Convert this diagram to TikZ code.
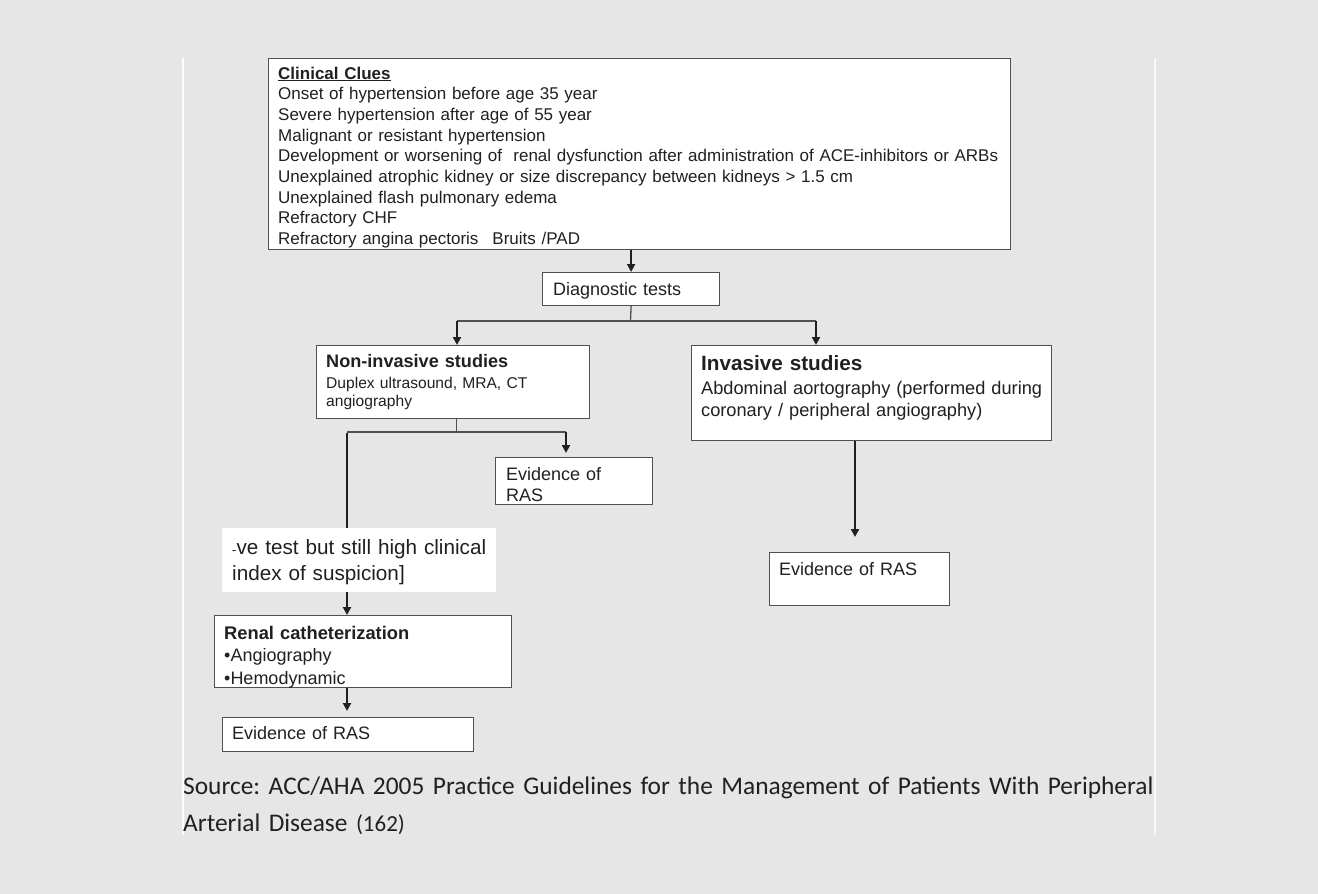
\documentclass[tikz,border=0pt]{standalone}
\usepackage{fontspec}
\setmainfont{Liberation Sans}
\newfontfamily\srcfont{Carlito}
\usetikzlibrary{arrows.meta}
\definecolor{bg}{RGB}{230,230,230}
\definecolor{ink}{RGB}{35,31,32}
\definecolor{rule}{RGB}{80,80,80}
\frenchspacing
\begin{document}
\begin{tikzpicture}[x=1pt,y=-1pt,
  box/.style={draw=rule, line width=1.2pt, fill=white, anchor=north west, inner sep=0pt},
  plain/.style={fill=white, anchor=north west, inner sep=0pt},
  txt/.style={anchor=base west, inner sep=0pt, text=ink, align=left, text width=1000pt,
    execute at begin node=\frenchspacing},
  link/.style={draw=rule, line width=1.3pt},
  arr/.style={draw=ink, line width=2pt, -{Triangle[length=8pt,width=8pt]}},
]
% page
\fill[bg] (0,0) rectangle (1318,894);
\useasboundingbox (0,0) rectangle (1318,894);
\draw[white, line width=2pt] (183,58) -- (183,835);
\draw[white!70!bg, line width=1.2pt] (1155,58) -- (1155,835);

% boxes
\node[box, minimum width=742pt, minimum height=191pt] (clues) at (268,58) {};
\node[box, minimum width=177pt, minimum height=33pt] (diag) at (542,272) {};
\node[box, minimum width=273pt, minimum height=73pt] (noninv) at (316,345) {};
\node[box, minimum width=157pt, minimum height=47pt] (evidA) at (495,457) {};
\node[box, minimum width=360pt, minimum height=95pt] (inv) at (691,345) {};
\node[box, minimum width=180pt, minimum height=53pt] (evidC) at (769,552) {};
\node[plain, minimum width=274pt, minimum height=64pt] (susp) at (222,528) {};
\node[box, minimum width=297pt, minimum height=72pt] (renal) at (214,615) {};
\node[box, minimum width=251pt, minimum height=34pt] (evidB) at (222,717) {};

% texts
\node[txt, font=\fontsize{17}{20.7}\selectfont] (cluestext) at (278,79)
  {\textbf{\underline{Clinical Clues}}\\
   Onset of hypertension before age 35 year\\
   Severe hypertension after age of 55 year\\
   Malignant or resistant hypertension\\
   Development or worsening of\ \ renal dysfunction after administration of ACE-inhibitors or ARBs\\
   Unexplained atrophic kidney or size discrepancy between kidneys > 1.5 cm\\
   Unexplained flash pulmonary edema\\
   Refractory CHF\\
   Refractory angina pectoris\hspace{14pt}Bruits /PAD};
\node[txt, font=\fontsize{18}{21}\selectfont] (diagtext) at (553,295.5) {Diagnostic tests};
\node[txt, font=\bfseries\fontsize{18.1}{21}\selectfont] (noninvhead) at (326,367.7) {Non-invasive studies};
\node[txt, font=\fontsize{15.6}{18.5}\selectfont] (noninvbody) at (326,388.3)
  {Duplex ultrasound, MRA, CT\\angiography};
\node[txt, font=\fontsize{18}{21}\selectfont] (evidAtext) at (506,480.5) {Evidence of\\RAS};
\node[txt, font=\fontsize{20.7}{26}\selectfont] (susptext) at (232,554)
  {{\fontsize{13}{13}\selectfont -}ve test but still high clinical\\index of suspicion]};
\node[txt, font=\bfseries\fontsize{18.3}{21}\selectfont] (renalhead) at (224,639) {Renal catheterization};
\node[txt, font=\fontsize{18}{22.3}\selectfont] (renalbody) at (224,661.7)
  {•Angiography\\•Hemodynamic};
\node[txt, font=\fontsize{18}{21}\selectfont] (evidBtext) at (232,739.3) {Evidence of RAS};
\node[txt, font=\bfseries\fontsize{20.7}{24}\selectfont] (invhead) at (701,370.7) {Invasive studies};
\node[txt, font=\fontsize{18.2}{21.7}\selectfont] (invbody) at (701,394.3)
  {Abdominal aortography (performed during\\coronary / peripheral angiography)};
\node[txt, font=\fontsize{18}{21}\selectfont] (evidCtext) at (779,575) {Evidence of RAS};

% source line
\node[txt, font=\srcfont\fontsize{25.4}{37}\selectfont] (source) at (183,794)
  {Source: ACC/AHA 2005 Practice Guidelines for the Management of Patients With Peripheral\\
   Arterial Disease {\fontsize{23}{37}\selectfont(162)}};

% connectors
\coordinate (fork) at (630.5,321);
\coordinate (forkL) at (457,321);
\coordinate (forkR) at (816,321);
\coordinate (forkB) at (456,432);
\coordinate (forkBL) at (347,432);
\coordinate (forkBR) at (566,432);
\coordinate (invx) at (855,440);

\draw[arr] (diag.north |- clues.south) -- (diag.north);
\draw[link] (diag.south) -- (fork);
\draw[link] (forkL) -- (forkR);
\draw[arr] (forkL) -- (forkL |- noninv.north);
\draw[arr] (forkR) -- (forkR |- inv.north);

\draw[draw=rule, line width=1pt] (forkB |- noninv.south) -- (forkB);
\draw[link] (forkBL) -- (forkBR);
\draw[arr, shorten >=4pt] (forkBR) -- (forkBR |- evidA.north);
\draw[draw=ink, line width=2.5pt] ([yshift=-0.65pt]forkBL) -- (forkBL |- susp.north);
\draw[arr] (forkBL |- susp.south) -- (forkBL |- renal.north);
\draw[arr, shorten >=6pt] (forkBL |- renal.south) -- (forkBL |- evidB.north);

\draw[arr, shorten >=15pt] (invx |- inv.south) -- (invx |- evidC.north);
\end{tikzpicture}
\end{document}
